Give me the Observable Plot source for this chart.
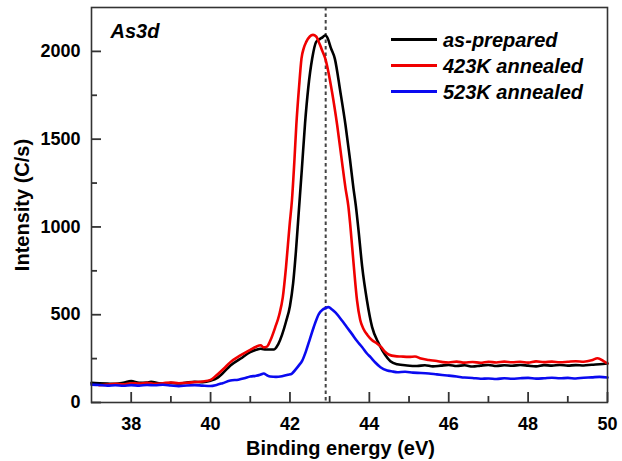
<!DOCTYPE html>
<html><head><meta charset="utf-8">
<script src="https://cdn.jsdelivr.net/npm/d3@7"></script>
<script src="https://cdn.jsdelivr.net/npm/@observablehq/plot@0.6"></script>
<style>body{margin:0;background:#fff;} #chart{width:622px;height:461px;}</style>
</head><body><div id="chart"></div>
<script>
// ---- data ----
const seriesNames = ["as-prepared", "423K annealed", "523K annealed"];
const seriesColors = ["#000000", "#f00000", "#0a0af0"];
const panelLabel = "As3d";
const xLabel = "Binding energy (eV)";
const yLabel = "Intensity (C/s)";
const xTicks = [38, 40, 42, 44, 46, 48, 50];
const xMinorTicks = [39, 41, 43, 45, 47, 49];
const yTicks = [0, 500, 1000, 1500, 2000];
const yMinorTicks = [250, 750, 1250, 1750];
const peakEnergy = [42.9];

const asPrepared = [
 [37.0,112],[37.2,110],[37.4,108],[37.6,106],[37.8,112],[38.0,122],[38.2,112],[38.4,114],[38.5,118],[38.7,110],
 [38.9,108],[39.0,112],[39.2,108],[39.4,114],[39.6,118],[39.8,116],[40.0,124],[40.17,140],[40.3,165],[40.5,211],
 [40.75,249],[41.0,287],[41.15,300],[41.26,306],[41.4,302],[41.6,302],[41.7,330],[41.8,385],[41.9,460],[42.0,550],
 [42.08,680],[42.15,860],[42.22,1080],[42.3,1330],[42.38,1590],[42.46,1790],[42.56,1959],[42.66,2054],[42.75,2070],[42.82,2080],
 [42.89,2092],[42.95,2075],[43.03,2020],[43.13,1959],[43.27,1769],[43.40,1579],[43.51,1389],[43.6,1220],[43.66,1120],[43.73,975],
 [43.82,772],[43.94,581],[44.07,429],[44.24,335],[44.40,270],[44.53,235],[44.7,218],[44.95,211],[45.2,208],[45.4,212],
 [45.6,206],[45.8,210],[46.0,214],[46.2,208],[46.4,212],[46.6,205],[46.8,210],[47.0,214],[47.2,208],[47.4,212],
 [47.6,209],[47.8,214],[48.0,210],[48.2,206],[48.4,213],[48.6,210],[48.8,214],[49.0,210],[49.2,213],[49.4,211],
 [49.6,215],[49.8,218],[50.0,222]
];
const annealed423 = [
 [37.2,98],[37.4,102],[37.6,106],[37.8,104],[38.0,110],[38.2,108],[38.4,112],[38.6,106],[38.8,110],[39.0,114],
 [39.2,110],[39.4,112],[39.6,116],[39.8,120],[40.0,129],[40.15,155],[40.33,192],[40.5,230],[40.75,268],[41.0,300],
 [41.15,318],[41.26,326],[41.34,314],[41.42,318],[41.5,350],[41.63,429],[41.73,500],[41.82,600],[41.9,770],[41.99,1009],
 [42.05,1152],[42.11,1370],[42.16,1579],[42.23,1800],[42.29,1959],[42.35,2020],[42.41,2054],[42.5,2085],[42.58,2094],[42.66,2085],
 [42.75,2040],[42.82,2000],[42.89,1959],[43.06,1769],[43.19,1579],[43.30,1389],[43.40,1220],[43.47,1120],[43.52,1009],[43.61,772],
 [43.69,581],[43.77,470],[43.85,420],[43.95,385],[44.07,355],[44.2,335],[44.3,315],[44.4,288],[44.5,272],[44.65,264],
 [44.8,262],[45.0,260],[45.15,262],[45.3,250],[45.5,242],[45.7,236],[45.85,230],[46.0,228],[46.2,233],[46.4,227],
 [46.6,231],[46.8,226],[47.0,232],[47.2,228],[47.4,233],[47.6,229],[47.8,232],[48.0,227],[48.2,234],[48.4,230],
 [48.6,233],[48.8,229],[49.0,232],[49.2,235],[49.4,232],[49.6,240],[49.75,252],[49.9,236],[50.0,222]
];
const annealed523 = [
 [37.0,102],[37.2,100],[37.4,96],[37.6,98],[37.8,95],[38.0,99],[38.2,96],[38.4,100],[38.6,98],[38.8,101],
 [39.0,97],[39.2,93],[39.4,97],[39.6,99],[39.8,96],[40.0,94],[40.15,100],[40.3,110],[40.5,125],[40.7,130],
 [40.85,138],[41.0,148],[41.15,152],[41.25,158],[41.34,165],[41.42,155],[41.5,148],[41.65,146],[41.8,150],[41.95,158],
 [42.05,165],[42.15,190],[42.22,210],[42.31,239],[42.4,290],[42.5,360],[42.6,430],[42.73,505],[42.82,528],[42.89,537],
 [42.97,543],[43.06,530],[43.15,512],[43.31,467],[43.43,430],[43.56,391],[43.69,350],[43.82,315],[43.94,279],[44.03,258],
 [44.15,228],[44.28,201],[44.45,182],[44.6,176],[44.7,172],[44.9,175],[45.1,170],[45.3,168],[45.5,165],[45.7,160],
 [45.96,154],[46.2,148],[46.4,142],[46.6,140],[46.8,135],[47.0,137],[47.2,134],[47.4,138],[47.6,135],[47.8,138],
 [48.0,140],[48.2,136],[48.4,138],[48.6,141],[48.8,138],[49.0,140],[49.2,137],[49.4,141],[49.6,143],[49.8,146],
 [50.0,142]
];
const seriesData = [asPrepared, annealed423, annealed523];

// ---- layout ----
const W = 622, H = 461, mL = 91, mR = 15, mT = 7, mB = 59;
const innerW = W - mL - mR, innerH = H - mT - mB;
const font = "'Liberation Sans', Arial, Helvetica, sans-serif";
const axisColor = "#333";

const lineMarks = seriesData.map((data, i) =>
  Plot.line(data, {x: d => d[0], y: d => d[1], stroke: seriesColors[i], strokeWidth: 2.6, curve: "monotone-x"})
);

const plot = Plot.plot({
  width: W, height: H,
  marginLeft: mL, marginRight: mR, marginTop: mT, marginBottom: mB,
  x: {domain: [37, 50]},
  y: {domain: [0, 2250]},
  style: {fontFamily: font, background: "#fff", color: "#000"},
  marks: [
    Plot.ruleX(peakEnergy, {x: d => d, stroke: "#444", strokeWidth: 2, strokeDasharray: "3.5,3"}),
    ...lineMarks,
    Plot.tickX(xTicks, {x: d => d, insetTop: innerH - 10, stroke: axisColor, strokeWidth: 1.8}),
    Plot.tickX(xMinorTicks, {x: d => d, insetTop: innerH - 6, stroke: axisColor, strokeWidth: 1.8}),
    Plot.tickY(yTicks, {y: d => d, insetRight: innerW - 10, stroke: axisColor, strokeWidth: 1.8}),
    Plot.tickY(yMinorTicks, {y: d => d, insetRight: innerW - 6, stroke: axisColor, strokeWidth: 1.8}),
    Plot.axisX({ticks: xTicks, tickSize: 0, tickPadding: 15, label: null, fontSize: 18, fontWeight: "bold", tickFormat: d => String(d)}),
    Plot.axisY({ticks: yTicks, tickSize: 0, tickPadding: 11, label: null, fontSize: 18, fontWeight: "bold", tickFormat: d => String(d)}),
    Plot.text([xLabel], {frameAnchor: "bottom", textAnchor: "middle", lineAnchor: "bottom", dx: -9, dy: 52, fontSize: 20, fontWeight: "bold", text: d => d}),
    Plot.text([yLabel], {frameAnchor: "left", textAnchor: "middle", lineAnchor: "middle", dx: -68.5, rotate: -90, fontSize: 20, fontWeight: "bold", text: d => d}),
    Plot.text([panelLabel], {frameAnchor: "top-left", dx: 19, dy: 16, textAnchor: "start", lineAnchor: "top", fontSize: 20, fontWeight: "bold", fontStyle: "italic", text: d => d}),
    Plot.frame({stroke: axisColor, strokeWidth: 1.6})
  ]
});

// legend inside the frame
const svg = d3.select(plot);
const lg = svg.append("g").attr("font-family", font).attr("font-size", 20)
  .attr("font-weight", "bold").attr("font-style", "italic");
const rowY = [39.5, 65.5, 91.5];
seriesNames.forEach((name, i) => {
  lg.append("line").attr("x1", 391).attr("x2", 437).attr("y1", rowY[i]).attr("y2", rowY[i])
    .attr("stroke", seriesColors[i]).attr("stroke-width", 3);
  lg.append("text").attr("x", 443).attr("y", rowY[i] + 7).attr("text-anchor", "start")
    .attr("fill", "#000").text(name);
});

document.getElementById("chart").appendChild(plot);
</script>
</body></html>
